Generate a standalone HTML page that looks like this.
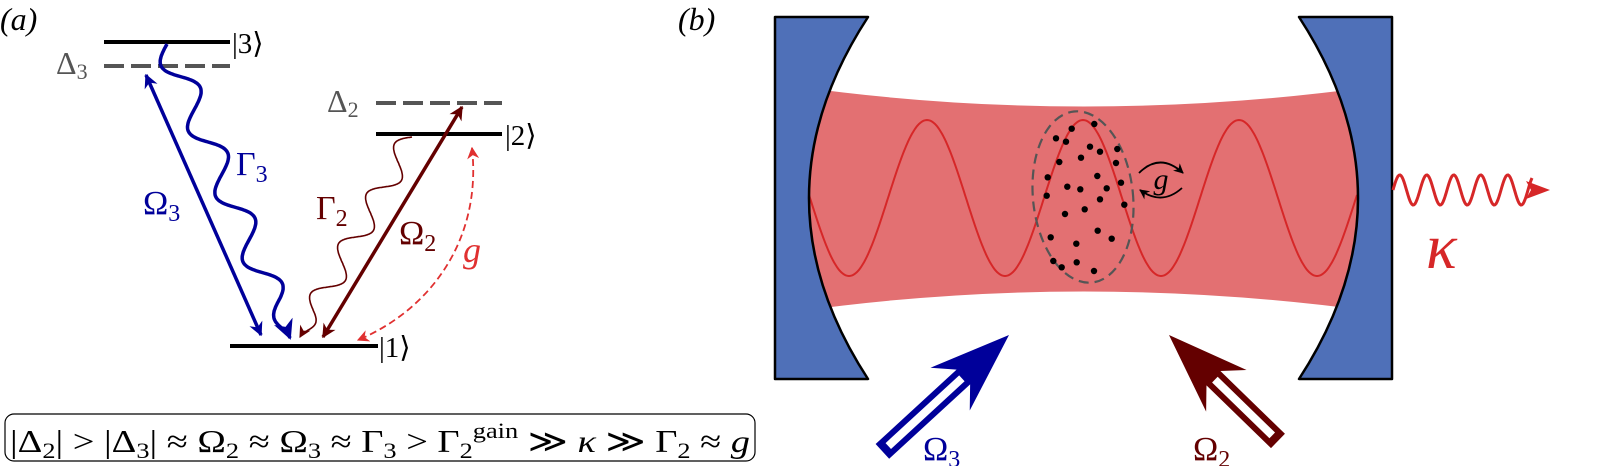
<!DOCTYPE html>
<html><head><meta charset="utf-8"><style>
html,body{margin:0;padding:0;background:#fff;}
svg{display:block}
text{font-family:"Liberation Serif","DejaVu Serif",serif;}
</style></head><body>
<svg id="s" width="1604" height="466" viewBox="0 0 1604 466" xmlns="http://www.w3.org/2000/svg" font-family="Liberation Serif, serif">
<defs>
<marker id="ab" markerWidth="14" markerHeight="14" refX="9" refY="5" orient="auto-start-reverse" markerUnits="userSpaceOnUse" viewBox="0 0 10 10"><path d="M0,0 L10,5 L0,10 L3,5z" fill="#00009a"/></marker>
<marker id="ab2" markerWidth="20" markerHeight="20" refX="9" refY="5" orient="auto" markerUnits="userSpaceOnUse" viewBox="0 0 10 10"><path d="M0,0 L10,5 L0,10 L3,5z" fill="#00009a"/></marker>
<marker id="ar" markerWidth="14" markerHeight="14" refX="9" refY="5" orient="auto-start-reverse" markerUnits="userSpaceOnUse" viewBox="0 0 10 10"><path d="M0,0 L10,5 L0,10 L3,5z" fill="#640000"/></marker>
<marker id="ar2" markerWidth="12" markerHeight="12" refX="9" refY="5" orient="auto" markerUnits="userSpaceOnUse" viewBox="0 0 10 10"><path d="M0,0 L10,5 L0,10 L3,5z" fill="#640000"/></marker>
<marker id="arr" markerWidth="12" markerHeight="12" refX="9" refY="5" orient="auto-start-reverse" markerUnits="userSpaceOnUse" viewBox="0 0 10 10"><path d="M0,0 L10,5 L0,10 L3,5z" fill="#e03030"/></marker>
<marker id="ak" markerWidth="10" markerHeight="10" refX="9" refY="5" orient="auto" markerUnits="userSpaceOnUse" viewBox="0 0 10 10"><path d="M0,0 L10,5 L0,10 L3,5z" fill="#000"/></marker>
</defs>
<text x="0" y="30" font-size="32" font-style="italic">(a)</text>
<text x="678" y="30" font-size="32" font-style="italic">(b)</text>
<!-- levels -->
<line x1="104" y1="42" x2="230" y2="42" stroke="#000" stroke-width="4"/>
<line x1="104" y1="66" x2="230" y2="66" stroke="#555" stroke-width="4" stroke-dasharray="20,7"/>
<line x1="376" y1="134" x2="502" y2="134" stroke="#000" stroke-width="4"/>
<line x1="376" y1="103" x2="502" y2="103" stroke="#555" stroke-width="4" stroke-dasharray="20,7"/>
<line x1="230" y1="346" x2="378" y2="346" stroke="#000" stroke-width="4"/>
<text x="232" y="53" font-size="29">|3⟩</text>
<text x="505" y="145" font-size="29">|2⟩</text>
<text x="379" y="357" font-size="29">|1⟩</text>
<text x="56" y="74" font-size="32" fill="#555">Δ<tspan font-size="22" dy="5">3</tspan></text>
<text x="327" y="112" font-size="32" fill="#555">Δ<tspan font-size="22" dy="5">2</tspan></text>
<!-- arrows -->
<line x1="146" y1="75" x2="261" y2="335" stroke="#00009a" stroke-width="3.5" marker-start="url(#ab)" marker-end="url(#ab)"/>
<line x1="462" y1="107" x2="323" y2="337" stroke="#640000" stroke-width="3.5" marker-start="url(#ar)" marker-end="url(#ar)"/>
<path id="g3" fill="none" stroke="#00009a" stroke-width="3.5" marker-end="url(#ab2)"/>
<path id="g2" fill="none" stroke="#640000" stroke-width="1.6" marker-end="url(#ar2)"/>
<path d="M472,148 C482,240 430,310 358,340" fill="none" stroke="#e03030" stroke-width="1.8" stroke-dasharray="7,4" marker-start="url(#arr)" marker-end="url(#arr)"/>
<text x="143" y="214" font-size="34" fill="#00009a">Ω<tspan font-size="24" dy="7">3</tspan></text>
<text x="236" y="175" font-size="34" fill="#00009a">Γ<tspan font-size="24" dy="7">3</tspan></text>
<text x="316" y="219" font-size="34" fill="#640000">Γ<tspan font-size="24" dy="7">2</tspan></text>
<text x="399" y="244" font-size="34" fill="#640000">Ω<tspan font-size="24" dy="7">2</tspan></text>
<text x="463" y="262" font-size="36" font-style="italic" fill="#e03030">g</text>
<!-- formula -->
<rect x="5" y="414" width="750" height="47" rx="9" fill="none" stroke="#000" stroke-width="1.2"/>
<text x="10" y="452" font-size="32" textLength="740" lengthAdjust="spacingAndGlyphs">|Δ<tspan font-size="22" dy="6">2</tspan><tspan dy="-6">| &gt; |Δ</tspan><tspan font-size="22" dy="6">3</tspan><tspan dy="-6">| ≈ Ω</tspan><tspan font-size="22" dy="6">2</tspan><tspan dy="-6"> ≈ Ω</tspan><tspan font-size="22" dy="6">3</tspan><tspan dy="-6"> ≈ Γ</tspan><tspan font-size="22" dy="6">3</tspan><tspan dy="-6"> &gt; Γ</tspan><tspan font-size="22" dy="6">2</tspan><tspan font-size="22" dy="-20">gain</tspan><tspan dy="14"> ≫ </tspan><tspan font-style="italic">κ</tspan> ≫ Γ<tspan font-size="22" dy="6">2</tspan><tspan dy="-6"> ≈ </tspan><tspan font-style="italic">g</tspan></text>
<!-- cavity -->
<path d="M800,87 Q1083,126 1370,87 L1370,311 Q1083,272 800,311 Z" fill="#e37072"/>
<path id="sw" fill="none" stroke="#d62728" stroke-width="2"/>
<path d="M775,17 L868,17 Q750,198 868,379 L775,379 Z" fill="#4f70b8" stroke="#000" stroke-width="2.5" stroke-linejoin="round"/>
<path d="M1392,17 L1299,17 Q1417,198 1299,379 L1392,379 Z" fill="#4f70b8" stroke="#000" stroke-width="2.5" stroke-linejoin="round"/>
<ellipse cx="1083" cy="197" rx="50" ry="86" transform="rotate(-6 1083 197)" fill="none" stroke="#555" stroke-width="2.2" stroke-dasharray="10,6"/>
<g id="dots" fill="#000"></g>
<path d="M1139,173 Q1160,152 1183,173" fill="none" stroke="#000" stroke-width="1.8" marker-end="url(#ak)"/>
<path d="M1182,188 Q1162,206 1140,190" fill="none" stroke="#000" stroke-width="1.8" marker-end="url(#ak)"/>
<text x="1161" y="189" font-size="30" font-style="italic" text-anchor="middle">g</text>
<path id="kw" fill="none" stroke="#d62728" stroke-width="3"/>
<path d="M1550,190 L1526,181 L1531,190 L1526,199 Z" fill="#d62728"/>
<text x="1426" y="268" font-size="64" font-style="italic" fill="#d62728">κ</text>
<!-- pump arrows -->
<g transform="translate(1009,335) rotate(-42.6)">
<path d="M0,0 L-80,-29 L-62,-10 L-172,-10 L-172,10 L-62,10 L-80,29 Z" fill="#00009a"/>
<rect x="-164" y="-4" width="100" height="8" fill="#fff"/>
</g>
<text x="923" y="460" font-size="34" fill="#00009a">Ω<tspan font-size="24" dy="7">3</tspan></text>
<g transform="translate(1169,335) rotate(-135.8)">
<path d="M0,0 L-80,-29 L-62,-10 L-152,-10 L-152,10 L-62,10 L-80,29 Z" fill="#640000"/>
<rect x="-144" y="-4" width="80" height="8" fill="#fff"/>
</g>
<text x="1193" y="460" font-size="34" fill="#640000">Ω<tspan font-size="24" dy="7">2</tspan></text>
</svg>
<script>
function wavy(x1,y1,x2,y2,amp,n){var dx=x2-x1,dy=y2-y1,L=Math.hypot(dx,dy),ux=dx/L,uy=dy/L,px=-uy,py=ux,d="";var N=300;for(var i=0;i<=N;i++){var t=i/N,s=t*L,env=Math.min(1,(1-t)*8);var o=amp*Math.sin(2*Math.PI*n*t)*env;var x=x1+ux*s+px*o,y=y1+uy*s+py*o;d+=(i?"L":"M")+x.toFixed(1)+","+y.toFixed(1);}return d;}
document.getElementById("g3").setAttribute("d",wavy(167,44,290,338,14,4.5));
document.getElementById("g2").setAttribute("d",wavy(412,137,300,337,12,4));
var d="";for(var x=795;x<=1357;x++){var y=198-78*Math.cos(2*Math.PI*(x-1083)/156);d+=(x>795?"L":"M")+x+","+y.toFixed(1);}
document.getElementById("sw").setAttribute("d",d);
d="";for(var x=1393;x<=1532;x++){var y=190-15*Math.sin(2*Math.PI*(x-1393)/27);d+=(x>1393?"L":"M")+x+","+y.toFixed(1);}
document.getElementById("kw").setAttribute("d",d);
var pts=[[283,72],[215,86],[168,115],[198,125],[270,140],[300,155],[352,147],[178,186],[243,173],[348,189],[143,232],[292,228],[363,248],[202,260],[241,268],[320,265],[140,287],[300,298],[373,314],[195,342],[254,328],[293,392],[152,412],[335,416],[229,431],[160,483],[185,502],[230,487],[282,513]];
var g=document.getElementById("dots"),h="";pts.forEach(function(p){h+='<circle cx="'+(1000+p[0]/3).toFixed(1)+'" cy="'+(100+p[1]/3).toFixed(1)+'" r="3.2"/>';});g.innerHTML=h;
</script>
</body></html>
